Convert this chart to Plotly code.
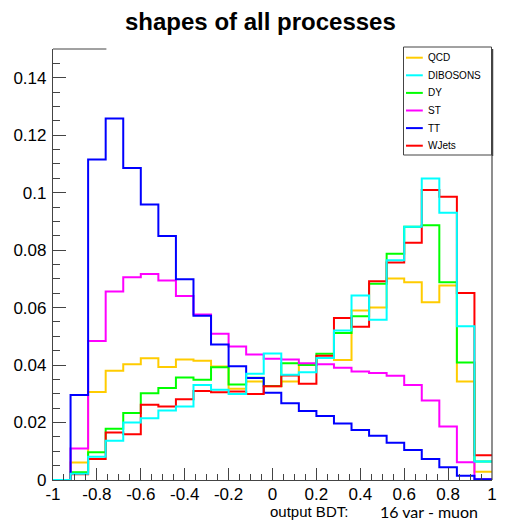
import plotly.graph_objects as go

# Binning of the BDT output: 25 equal bins between -1 and 1
bin_edges = [-1 + 0.08 * i for i in range(26)]

# Normalised shapes, one value per bin
qcd = [0, 0.0061, 0.0306, 0.0380, 0.0403, 0.0424, 0.0393, 0.0419, 0.0415, 0.0395,
       0.0318, 0.0343, 0.0326, 0.0343, 0.0400, 0.0425, 0.0418, 0.0590, 0.0600, 0.0701,
       0.0688, 0.0619, 0.0677, 0.0343, 0.0029]
dibosons = [0, 0.0022, 0.0081, 0.0137, 0.0200, 0.0215, 0.0242, 0.0256, 0.0331, 0.0314,
            0.0299, 0.0370, 0.0440, 0.0366, 0.0375, 0.0425, 0.0520, 0.0642, 0.0558, 0.0765,
            0.0881, 0.1049, 0.0930, 0.0535, 0.0064]
dy = [0, 0.0027, 0.0097, 0.0178, 0.0233, 0.0302, 0.0320, 0.0357, 0.0349, 0.0392,
      0.0332, 0.0356, 0.0327, 0.0406, 0.0400, 0.0439, 0.0512, 0.0570, 0.0683, 0.0787,
      0.0881, 0.0887, 0.0688, 0.0409, 0.0064]
st = [0, 0.0110, 0.0484, 0.0656, 0.0706, 0.0717, 0.0694, 0.0640, 0.0576, 0.0509,
      0.0465, 0.0437, 0.0422, 0.0419, 0.0406, 0.0403, 0.0391, 0.0378, 0.0372, 0.0363,
      0.0331, 0.0277, 0.0186, 0.0062, 0.0003]
tt = [0, 0.0296, 0.1115, 0.1258, 0.1086, 0.0959, 0.0849, 0.0699, 0.0572, 0.0472,
      0.0396, 0.0355, 0.0304, 0.0267, 0.0240, 0.0223, 0.0197, 0.0174, 0.0154, 0.0130,
      0.0104, 0.0073, 0.0044, 0.0015, 0.0003]
wjets = [0, 0.0020, 0.0073, 0.0165, 0.0159, 0.0262, 0.0256, 0.0281, 0.0310, 0.0305,
         0.0308, 0.0299, 0.0326, 0.0364, 0.0335, 0.0432, 0.0564, 0.0533, 0.0692, 0.0757,
         0.0826, 0.1009, 0.0986, 0.0651, 0.0086]

process_names = ["QCD", "DIBOSONS", "DY", "ST", "TT", "WJets"]
process_values = [qcd, dibosons, dy, st, tt, wjets]
process_colors = ["#ffcc00", "#00ffff", "#00ff00", "#ff00ff", "#0000ff", "#ff0000"]
draw_order = ["QCD", "DY", "ST", "TT", "WJets", "DIBOSONS"]

x_tick_vals = [-1, -0.8, -0.6, -0.4, -0.2, 0, 0.2, 0.4, 0.6, 0.8, 1]
x_tick_text = ["-1", "-0.8", "-0.6", "-0.4", "-0.2", "0", "0.2", "0.4", "0.6", "0.8", "1"]
y_tick_vals = [0, 0.02, 0.04, 0.06, 0.08, 0.10, 0.12, 0.14]
y_tick_text = ["0", "0.02", "0.04", "0.06", "0.08", "0.1", "0.12", "0.14"]

W, H = 505, 522
ML, MR, MT, MB = 53, 8, 49, 42
PW, PH = W - ML - MR, H - MT - MB
AXIS = "#444444"
FONT = "Liberation Sans, Arial, sans-serif"


def px_x(px):
    return (px - ML) / PW


def px_y(py):
    return (H - MB - py) / PH


fig = go.Figure()

lookup = dict(zip(process_names, zip(process_values, process_colors)))
for name in draw_order:
    vals, col = lookup[name]
    fig.add_trace(go.Scatter(
        x=bin_edges, y=list(vals) + [vals[-1]],
        mode="lines", line=dict(shape="hv", color=col, width=2),
        name=name, showlegend=False, hoverinfo="skip",
    ))

shapes = []
# partial top frame and right frame
shapes.append(dict(type="line", xref="paper", yref="paper",
                   x0=0, x1=px_x(107), y0=1, y1=1, line=dict(color=AXIS, width=1)))
shapes.append(dict(type="line", xref="paper", yref="paper",
                   x0=1, x1=1, y0=0, y1=px_y(155), line=dict(color=AXIS, width=1.2)))

# legend box
lx0, lx1, ly0, ly1 = 407.5, 496.5, 47, 155
shapes.append(dict(type="rect", xref="paper", yref="paper",
                   x0=px_x(lx0), x1=px_x(lx1), y0=px_y(ly1), y1=px_y(ly0),
                   fillcolor="white", line=dict(color=AXIS, width=1)))
shapes.append(dict(type="line", xref="paper", yref="paper",
                   x0=px_x(lx1 + 1), x1=px_x(lx1 + 1), y0=px_y(ly1 + 1), y1=px_y(ly0 + 2),
                   line=dict(color=AXIS, width=1.5)))

annotations = []
entry_y0, entry_dy = 57.7, 17.6
for i, (name, col) in enumerate(zip(process_names, process_colors)):
    cy = entry_y0 + i * entry_dy
    shapes.append(dict(type="line", xref="paper", yref="paper",
                       x0=px_x(410), x1=px_x(427), y0=px_y(cy), y1=px_y(cy),
                       line=dict(color=col, width=2)))
    annotations.append(dict(xref="paper", yref="paper", x=px_x(430), y=px_y(cy),
                            xanchor="left", yanchor="middle", showarrow=False,
                            text=name, font=dict(family=FONT, size=10, color="black")))

# title
annotations.append(dict(xref="paper", yref="paper", x=px_x(263.3), y=px_y(21),
                        xanchor="center", yanchor="middle", showarrow=False,
                        text="<b>shapes of all processes</b>",
                        font=dict(family=FONT, size=24, color="black")))
# axis title
annotations.append(dict(xref="paper", yref="paper", x=px_x(353), y=px_y(511),
                        xanchor="right", yanchor="middle", showarrow=False,
                        text="output BDT:", font=dict(family=FONT, size=15, color="black")))
annotations.append(dict(xref="paper", yref="paper", x=px_x(381.5), y=px_y(511),
                        xanchor="left", yanchor="middle", showarrow=False,
                        text="16 var - muon", font=dict(family="Lato, sans-serif", size=16, color="black")))

fig.update_layout(
    width=W, height=H,
    margin=dict(l=ML, r=MR, t=MT, b=MB, pad=0),
    paper_bgcolor="white", plot_bgcolor="white",
    showlegend=False,
    shapes=shapes, annotations=annotations,
    xaxis=dict(range=[-1, 1], tickmode="array", tickvals=x_tick_vals, ticktext=x_tick_text,
               ticks="inside", ticklen=12, tickwidth=1, tickcolor=AXIS, ticklabelstandoff=-2,
               minor=dict(tick0=-1, dtick=0.05, ticks="inside", ticklen=6, tickcolor=AXIS, tickwidth=1),
               showline=True, linecolor=AXIS, linewidth=1.2, showgrid=False, zeroline=False,
               tickfont=dict(family=FONT, size=17, color="black")),
    yaxis=dict(range=[0, 0.15], tickmode="array", tickvals=y_tick_vals, ticktext=y_tick_text,
               ticks="inside", ticklen=13, tickwidth=1, tickcolor=AXIS, ticklabelstandoff=2,
               minor=dict(tick0=0, dtick=0.005, ticks="inside", ticklen=7, tickcolor=AXIS, tickwidth=1),
               showline=True, linecolor=AXIS, linewidth=1.2, showgrid=False, zeroline=False,
               tickfont=dict(family=FONT, size=17, color="black")),
)

fig.write_html("out.html")
